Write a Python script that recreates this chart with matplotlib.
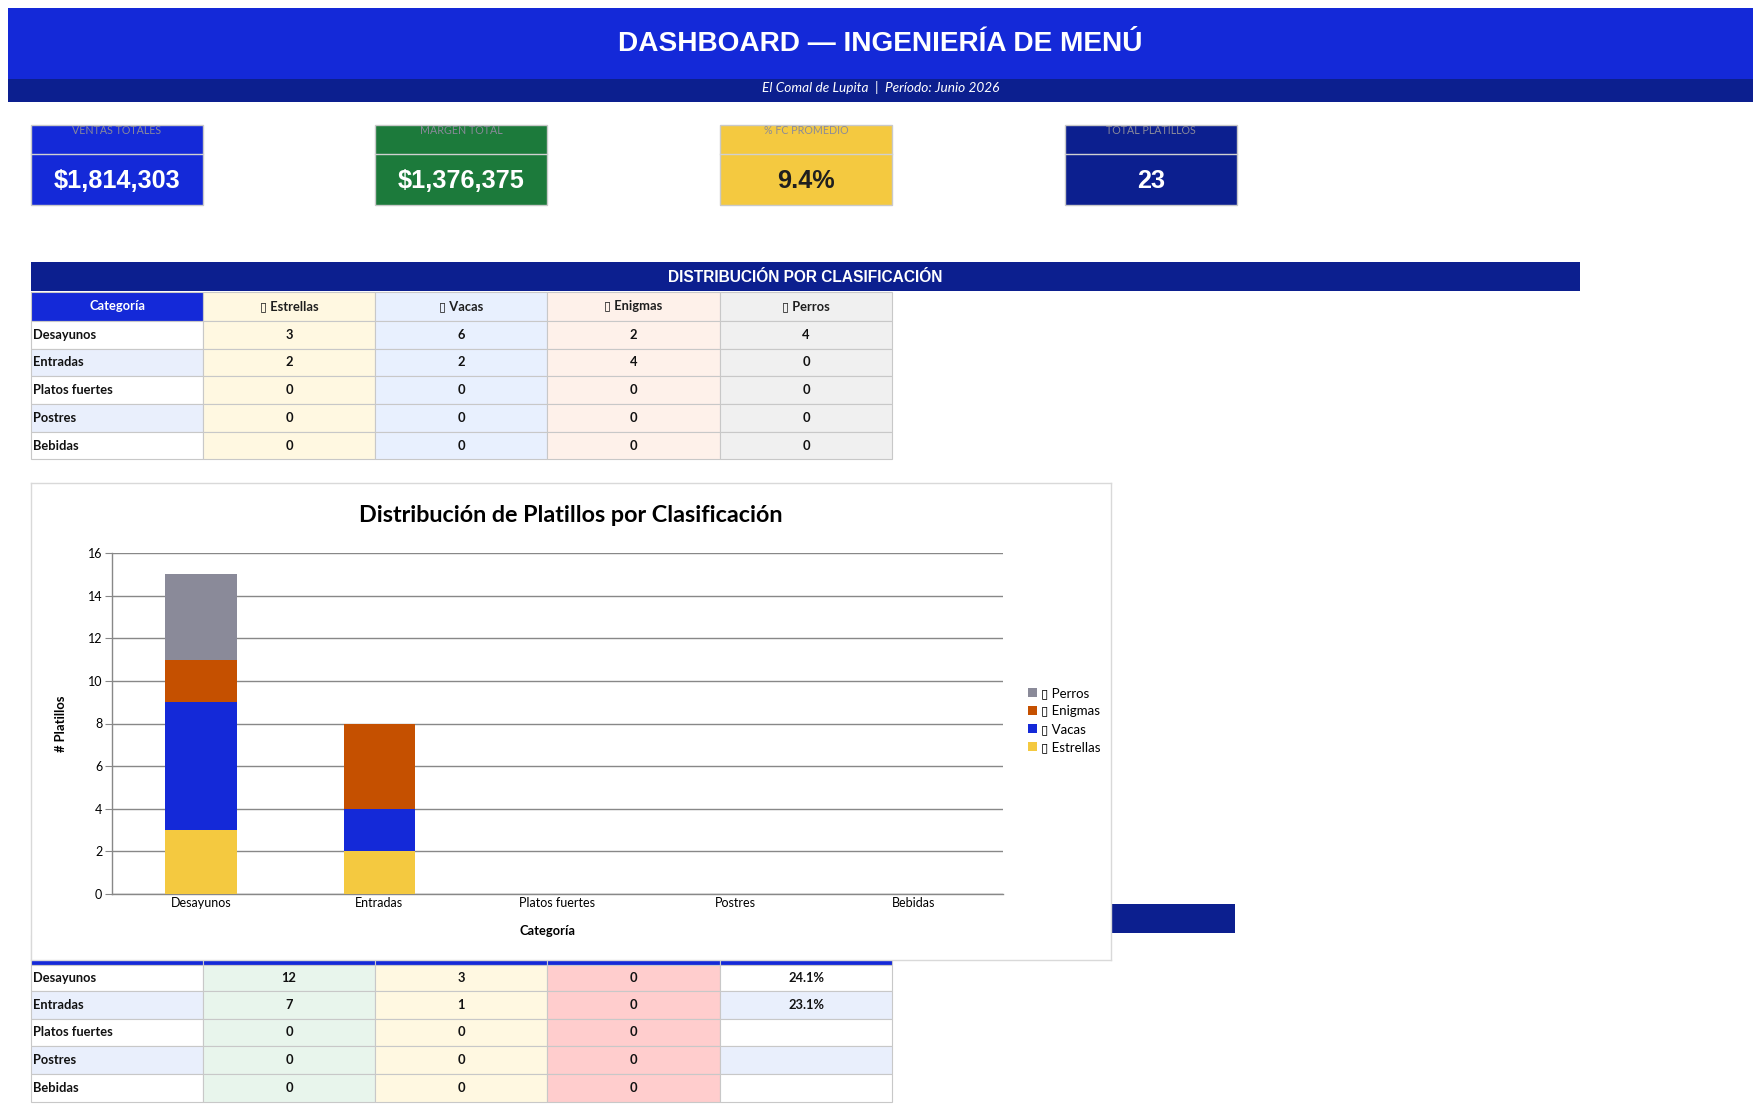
import matplotlib
matplotlib.use('Agg')
import matplotlib.pyplot as plt
from matplotlib.patches import Rectangle, Patch
import numpy as np

W, H = 1761, 1111

# ---- data ----
kpi_labels = ['VENTAS TOTALES', 'MARGEN TOTAL', '% FC PROMEDIO', 'TOTAL PLATILLOS']
kpi_values = ['$1,814,303', '$1,376,375', '9.4%', '23']

categorias = ['Desayunos', 'Entradas', 'Platos fuertes', 'Postres', 'Bebidas']
# the icons before each class name show as empty boxes in the reference
clases = ['\u25af Estrellas', '\u25af Vacas', '\u25af Enigmas', '\u25af Perros']
estrellas = [3, 2, 0, 0, 0]
vacas = [6, 2, 0, 0, 0]
enigmas = [2, 4, 0, 0, 0]
perros = [4, 0, 0, 0, 0]

# second table (header hidden behind the chart)
col_a = [12, 7, 0, 0, 0]
col_b = [3, 1, 0, 0, 0]
col_c = [0, 0, 0, 0, 0]
col_pct = ['24.1%', '23.1%', '', '', '']

# ---- colours ----
BLUE = '#1429d8'
NAVY = '#0c1f8f'
GREEN = '#1c7a3b'
YELLOW = '#f4c940'
ORANGE = '#c55000'
GREY = '#8a8a99'
ALT = '#e9effc'

FONT = ['Lato', 'DejaVu Sans']
HEAD = ['Liberation Sans', 'DejaVu Sans']
TS = 9.3  # table text size

fig = plt.figure(figsize=(W / 100, H / 100), dpi=100)
fig.patch.set_facecolor('white')

bg = fig.add_axes([0, 0, 1, 1], zorder=0)
bg.set_xlim(0, W)
bg.set_ylim(H, 0)
bg.axis('off')


def rect(x0, y0, x1, y1, fc, ec='none', lw=0.8, z=1):
    bg.add_patch(Rectangle((x0, y0), x1 - x0, y1 - y0, facecolor=fc,
                           edgecolor=ec, linewidth=lw, zorder=z))


# header banners
rect(8, 8, 1753, 79, BLUE)
rect(8, 79, 1753, 102, NAVY)
bg.text(W / 2, 44, 'DASHBOARD \u2014 INGENIER\u00cdA DE MEN\u00da', color='white',
        fontsize=20.2, fontweight='bold', family=HEAD, ha='center', va='center')
bg.text(W / 2, 88, 'El Comal de Lupita  |  Per\u00edodo: Junio 2026', color='white',
        fontsize=9.8, style='italic', family=FONT, ha='center', va='center')

# KPI cards
kpi_x = [31, 375, 720, 1065]
kpi_bg = [BLUE, GREEN, YELLOW, NAVY]
kpi_fg = ['white', 'white', '#1f1f1f', 'white']
for x0, lab, val, c, fg in zip(kpi_x, kpi_labels, kpi_values, kpi_bg, kpi_fg):
    rect(x0, 125, x0 + 172, 205, c, ec='#c9c9c9', lw=1)
    bg.plot([x0, x0 + 172], [154, 154], color='#d0d0d0', lw=1, zorder=2)
    bg.text(x0 + 86, 131, lab, color='#8a8a9a', fontsize=7.7, family=FONT,
            ha='center', va='center')
    bg.text(x0 + 86, 181, val, color=fg, fontsize=18.2, fontweight='bold',
            family=HEAD, ha='center', va='center')

# section header 1
rect(31, 262, 1580, 291, NAVY)
bg.text(805, 278, 'DISTRIBUCI\u00d3N POR CLASIFICACI\u00d3N', color='white', fontsize=11.2,
        fontweight='bold', family=HEAD, ha='center', va='center')

col_x = [31, 203, 375, 547, 720, 892]
rows1 = [292, 321, 349, 376, 404, 432, 459]
col_fill1 = ['#fff8e1', '#e8f0fe', '#fef1ea', '#f0f0f0']
cell_ec = '#c8c8c8'

rect(col_x[0], rows1[0], col_x[1], rows1[1], BLUE, ec=cell_ec)
bg.text((col_x[0] + col_x[1]) / 2, (rows1[0] + rows1[1]) / 2, 'Categor\u00eda',
        color='white', fontsize=TS, fontweight='bold', family=FONT,
        ha='center', va='center')
for j, lab in enumerate(clases):
    rect(col_x[j + 1], rows1[0], col_x[j + 2], rows1[1], col_fill1[j], ec=cell_ec)
    bg.text((col_x[j + 1] + col_x[j + 2]) / 2, (rows1[0] + rows1[1]) / 2, lab,
            color='#1f1f1f', fontsize=TS, fontweight='bold', family=FONT,
            ha='center', va='center')

tabla1 = [estrellas, vacas, enigmas, perros]
for i, cat in enumerate(categorias):
    y0, y1 = rows1[i + 1], rows1[i + 2]
    rect(col_x[0], y0, col_x[1], y1, ALT if i % 2 else 'white', ec=cell_ec)
    bg.text(col_x[0] + 2, (y0 + y1) / 2, cat, color='#111111', fontsize=TS,
            fontweight='bold', family=FONT, ha='left', va='center')
    for j, serie in enumerate(tabla1):
        rect(col_x[j + 1], y0, col_x[j + 2], y1, col_fill1[j], ec=cell_ec)
        bg.text((col_x[j + 1] + col_x[j + 2]) / 2, (y0 + y1) / 2, str(serie[i]),
                color='#111111', fontsize=TS, fontweight='bold', family=FONT,
                ha='center', va='center')

# section header 2 (mostly hidden behind chart)
rect(31, 904, 1235, 933, NAVY)
rows2 = [935, 965, 991, 1019, 1046, 1074, 1102]
for j in range(5):
    rect(col_x[j], rows2[0], col_x[j + 1], rows2[1], BLUE, ec=cell_ec)
col_fill2 = ['#e8f5ec', '#fff8e1', '#ffcdcd']
tabla2 = [col_a, col_b, col_c]
for i, cat in enumerate(categorias):
    y0, y1 = rows2[i + 1], rows2[i + 2]
    alt = ALT if i % 2 else 'white'
    rect(col_x[0], y0, col_x[1], y1, alt, ec=cell_ec)
    bg.text(col_x[0] + 2, (y0 + y1) / 2, cat, color='#111111', fontsize=TS,
            fontweight='bold', family=FONT, ha='left', va='center')
    for j, serie in enumerate(tabla2):
        rect(col_x[j + 1], y0, col_x[j + 2], y1, col_fill2[j], ec=cell_ec)
        bg.text((col_x[j + 1] + col_x[j + 2]) / 2, (y0 + y1) / 2, str(serie[i]),
                color='#111111', fontsize=TS, fontweight='bold', family=FONT,
                ha='center', va='center')
    rect(col_x[4], y0, col_x[5], y1, alt, ec=cell_ec)
    bg.text((col_x[4] + col_x[5]) / 2, (y0 + y1) / 2, col_pct[i], color='#111111',
            fontsize=TS, fontweight='bold', family=FONT, ha='center', va='center')


def fr(x0, y0, x1, y1):
    return [x0 / W, 1 - y1 / H, (x1 - x0) / W, (y1 - y0) / H]


# chart frame
frame = fig.add_axes(fr(31, 483, 1111, 960), zorder=1)
frame.set_facecolor('white')
frame.set_xticks([])
frame.set_yticks([])
for s in frame.spines.values():
    s.set_color('#d9d9d9')
    s.set_linewidth(1)

ax = fig.add_axes(fr(112, 553, 1003, 894), zorder=2)
ax.patch.set_alpha(0)
x = np.arange(len(categorias))
series = [estrellas, vacas, enigmas, perros]
colors = [YELLOW, BLUE, ORANGE, GREY]
bottom = np.zeros(len(categorias))
handles = []
for vals, c, lab in zip(series, colors, clases):
    ax.bar(x, vals, bottom=bottom, width=0.4, color=c, zorder=3)
    bottom += np.array(vals)
    handles.append(Patch(facecolor=c, label=lab))

ax.set_xlim(-0.5, len(categorias) - 0.5)
ax.set_ylim(0, 16)
ax.set_yticks(range(0, 17, 2))
ax.set_xticks(x)
ax.set_xticklabels(categorias, family=FONT, fontsize=9)
for t in ax.get_yticklabels():
    t.set_family(FONT)
    t.set_fontsize(9)
ax.tick_params(axis='x', length=0, pad=2)
ax.tick_params(axis='y', length=5, color='#888888', pad=2)
ax.grid(axis='y', color='#888888', linewidth=1, zorder=0)
for s in ['top', 'right']:
    ax.spines[s].set_visible(False)
for s in ['left', 'bottom']:
    ax.spines[s].set_color('#888888')
    ax.spines[s].set_linewidth(1)

ax.set_ylabel('# Platillos', family=FONT, fontsize=9.4, fontweight='bold')
ax.yaxis.set_label_coords(-0.05, 0.5)
ax.set_xlabel('Categor\u00eda', family=FONT, fontsize=9.3, fontweight='bold')
ax.xaxis.set_label_coords(0.489, -0.09)

fig.text(571 / W, 1 - 516 / H, 'Distribuci\u00f3n de Platillos por Clasificaci\u00f3n',
         family=FONT, fontsize=16.8, fontweight='bold', ha='center', va='center',
         zorder=5)

ax.legend(handles=handles[::-1], loc='center left',
          bbox_to_anchor=(1016 / W, 1 - 720 / H), bbox_transform=fig.transFigure,
          frameon=False, prop={'family': FONT, 'size': 9.5}, handlelength=0.7,
          handleheight=0.7, handletextpad=0.3, labelspacing=0.45)

fig.savefig('out.png', dpi=100, facecolor='white')
